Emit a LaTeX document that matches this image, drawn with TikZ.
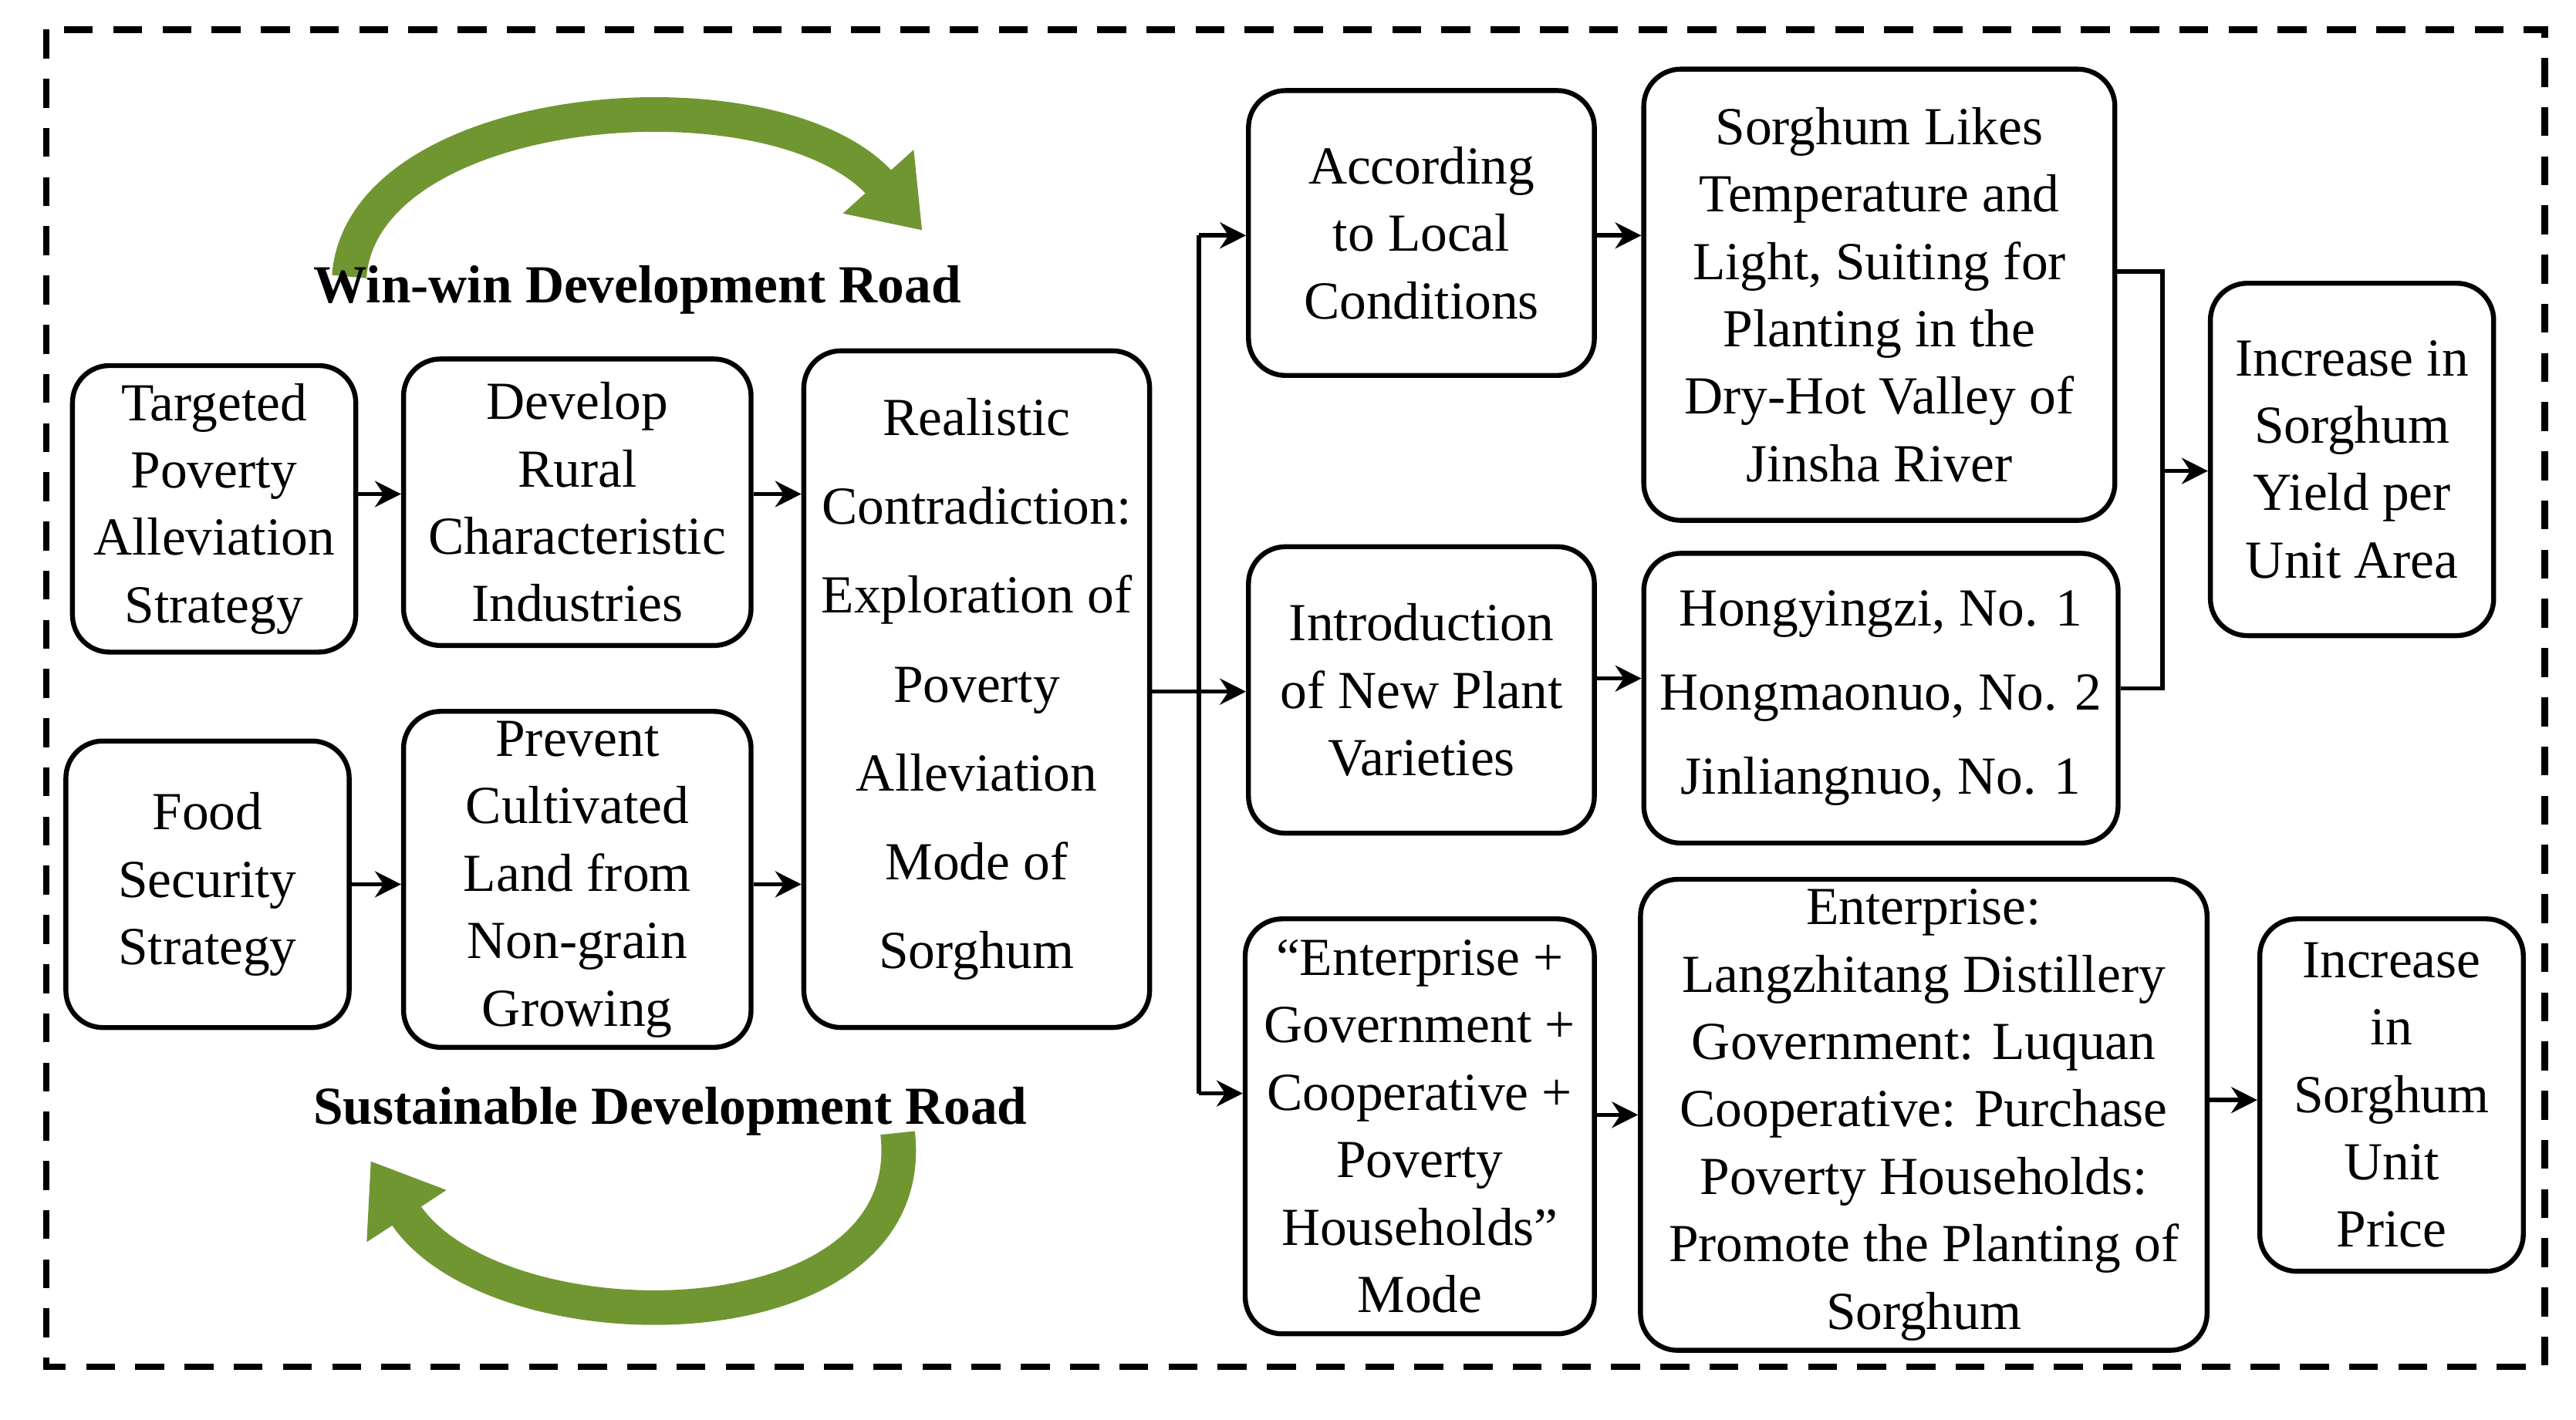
\documentclass[tikz,border=0pt]{standalone}
\usepackage{fontspec}
\setmainfont{Liberation Serif}
\usetikzlibrary{arrows.meta}
\definecolor{gr}{RGB}{112,150,50}
\begin{document}
\begin{tikzpicture}[x=0.02cm,y=-0.02cm,
 box/.style={draw,line width=1.7pt,rounded corners=0.45cm,align=center,inner sep=0pt,
   font=\fontsize{18.5}{23.3}\selectfont},
 arr/.style={line width=1.5pt,-{Stealth[length=9pt,width=9pt]}},
 ln/.style={line width=1.5pt},
 garr/.style={line width=0.42cm,draw=gr,-{Triangle[length=0.8cm,width=1.1cm]}},
 lab/.style={font=\fontsize{18.5}{22}\selectfont\bfseries}]
\useasboundingbox (0,0) rectangle (1564,862);
\draw[line width=2.2pt,dash pattern=on 10pt off 7pt] (28,18) rectangle (1545,830);
\newcommand{\bx}[6]{\node[box,minimum width={(#4-#2)*0.02cm},minimum height={(#5-#3)*0.02cm}] (#1) at ({(#2+#4)/2},{(#3+#5)/2}) {#6};}
\bx{A}{44}{222}{216}{396}{Targeted\\Poverty\\Alleviation\\Strategy}
\bx{B}{245}{218}{456}{392}{Develop\\Rural\\Characteristic\\Industries}
\node[box,minimum width=4.2cm,minimum height=8.22cm,font=\fontsize{18.5}{30.7}\selectfont] (C) at (593,418.5) {Realistic\\Contradiction:\\Exploration of\\Poverty\\Alleviation\\Mode of\\Sorghum};
\bx{D}{40}{450}{212}{624}{Food\\Security\\Strategy}
\bx{E}{245}{432}{456}{636}{Prevent\\Cultivated\\Land from\\Non-grain\\Growing}
\bx{F}{758}{55}{968}{228}{According\\to Local\\Conditions}
\bx{G}{998}{42}{1284}{316}{Sorghum Likes\\Temperature and\\Light, Suiting for\\Planting in the\\Dry-Hot Valley of\\Jinsha River}
\bx{H}{758}{332}{968}{506}{Introduction\\of New Plant\\Varieties}
\node[box,minimum width=5.76cm,minimum height=3.52cm,font=\fontsize{18.5}{29}\selectfont] (I) at (1142,424) {Hongyingzi, No. 1\\Hongmaonuo, No. 2\\Jinliangnuo, No. 1};
\bx{J}{1342}{172}{1514}{386}{Increase in\\Sorghum\\Yield per\\Unit Area}
\bx{K}{756}{558}{968}{810}{“Enterprise +\\Government +\\Cooperative +\\Poverty\\Households”\\Mode}
\bx{L}{996}{534}{1340}{820}{Enterprise:\\Langzhitang Distillery\\Government: Luquan\\Cooperative: Purchase\\Poverty Households:\\Promote the Planting of\\Sorghum}
\bx{M}{1372}{558}{1532}{772}{Increase\\in\\Sorghum\\Unit\\Price}
\draw[arr] (A.east|-0,300) -- (B.west|-0,300);
\draw[arr] (B.east|-0,300) -- (C.west|-0,300);
\draw[arr] (D.east|-0,537) -- (E.west|-0,537);
\draw[arr] (E.east|-0,537) -- (C.west|-0,537);
\coordinate (br) at (728,420);
\draw[ln] (C.east|-br) -- (br);
\draw[ln] (728,143) -- (728,664);
\draw[arr] (728,143) -- (F.west|-0,143);
\draw[arr] (br) -- (H.west|-br);
\draw[arr] (728,664) -- (K.west|-0,664);
\draw[arr] (F.east|-0,143) -- (G.west|-0,143);
\draw[arr] (H.east|-0,412) -- (I.west|-0,412);
\draw[arr] (K.east|-0,677) -- (L.west|-0,677);
\draw[arr] (L.east|-0,668) -- (M.west|-0,668);
\coordinate (jn) at (1313,286);
\draw[ln] (G.east|-0,165) -- (1313,165) -- (1313,418) -- (I.east|-0,418);
\draw[arr] (jn) -- (J.west|-jn);
\draw[garr] (212,168) .. controls (220,60) and (470,40) .. (560,140);
\draw[garr] (545,688) .. controls (560,820) and (300,820) .. (225,705);
\node[lab] (w) at (387,176) {Win-win Development Road};
\node[lab] (s) at (407,675) {Sustainable Development Road};
\end{tikzpicture}
\end{document}
